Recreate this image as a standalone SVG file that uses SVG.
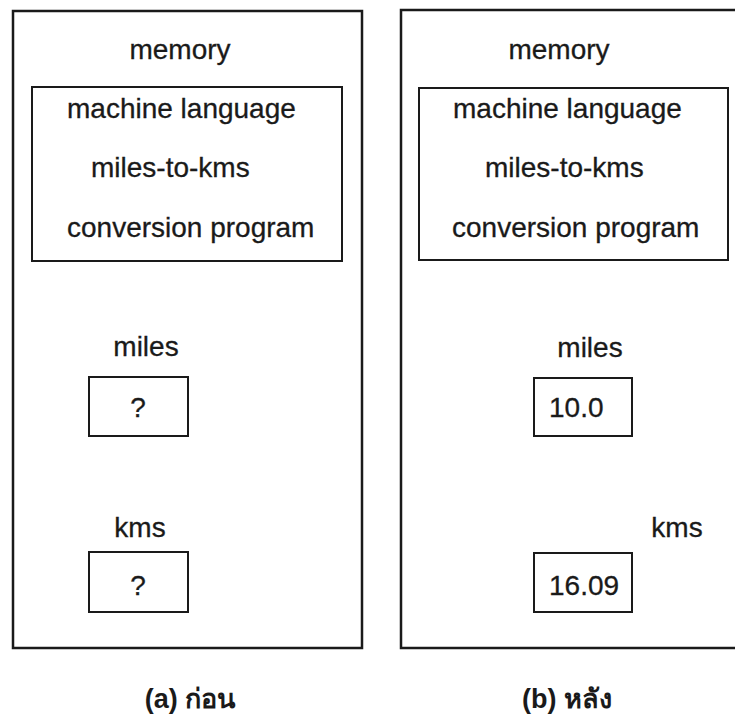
<svg xmlns="http://www.w3.org/2000/svg" width="735" height="719" viewBox="0 0 735 719">
<style>
.box{fill:none;stroke:#1a1a1a;stroke-width:2.5}
.in{fill:none;stroke:#1a1a1a;stroke-width:2}
.t{font-family:"Liberation Sans","DejaVu Sans",sans-serif;font-size:28px;fill:#1a1a1a;stroke:#1a1a1a;stroke-width:0.3}
.cap{font-family:"Liberation Sans","DejaVu Sans","Noto Sans",sans-serif;font-size:27px;font-weight:bold;fill:#1a1a1a}
</style>
<rect width="735" height="719" fill="#ffffff"/>
<g id="panel-a">
<rect class="box" x="13" y="11" width="349" height="637"/>
<text class="t" x="180" y="59" text-anchor="middle">memory</text>
</g>
<g id="program-a">
<rect class="in" x="32" y="87" width="310" height="174"/>
<text class="t" x="67" y="118">machine language</text>
<text class="t" x="91" y="177">miles-to-kms</text>
<text class="t" x="67" y="237">conversion program</text>
</g>
<g id="miles-a">
<text class="t" x="146" y="356" text-anchor="middle">miles</text>
<rect class="in" x="89" y="377" width="99" height="59"/>
<text class="t" x="138" y="417" text-anchor="middle">?</text>
</g>
<g id="kms-a">
<text class="t" x="140" y="537" text-anchor="middle">kms</text>
<rect class="in" x="89" y="552" width="99" height="60"/>
<text class="t" x="138" y="595" text-anchor="middle">?</text>
</g>
<g id="panel-b">
<rect class="box" x="401" y="10" width="340" height="638"/>
<text class="t" x="559" y="59" text-anchor="middle">memory</text>
</g>
<g id="program-b">
<rect class="in" x="419" y="88" width="309" height="172"/>
<text class="t" x="453" y="118">machine language</text>
<text class="t" x="485" y="177">miles-to-kms</text>
<text class="t" x="452" y="237">conversion program</text>
</g>
<g id="miles-b">
<text class="t" x="590" y="357" text-anchor="middle">miles</text>
<rect class="in" x="534" y="378" width="98" height="58"/>
<text class="t" x="549" y="417">10.0</text>
</g>
<g id="kms-b">
<text class="t" x="677" y="537" text-anchor="middle">kms</text>
<rect class="in" x="534" y="553" width="98" height="59"/>
<text class="t" x="549" y="595">16.09</text>
</g>
<g id="connectors"></g>
<g id="captions">
<text class="cap" x="190" y="708" text-anchor="middle">(a) ก่อน</text>
<text class="cap" x="567" y="708" text-anchor="middle">(b) หลัง</text>
</g>
</svg>
